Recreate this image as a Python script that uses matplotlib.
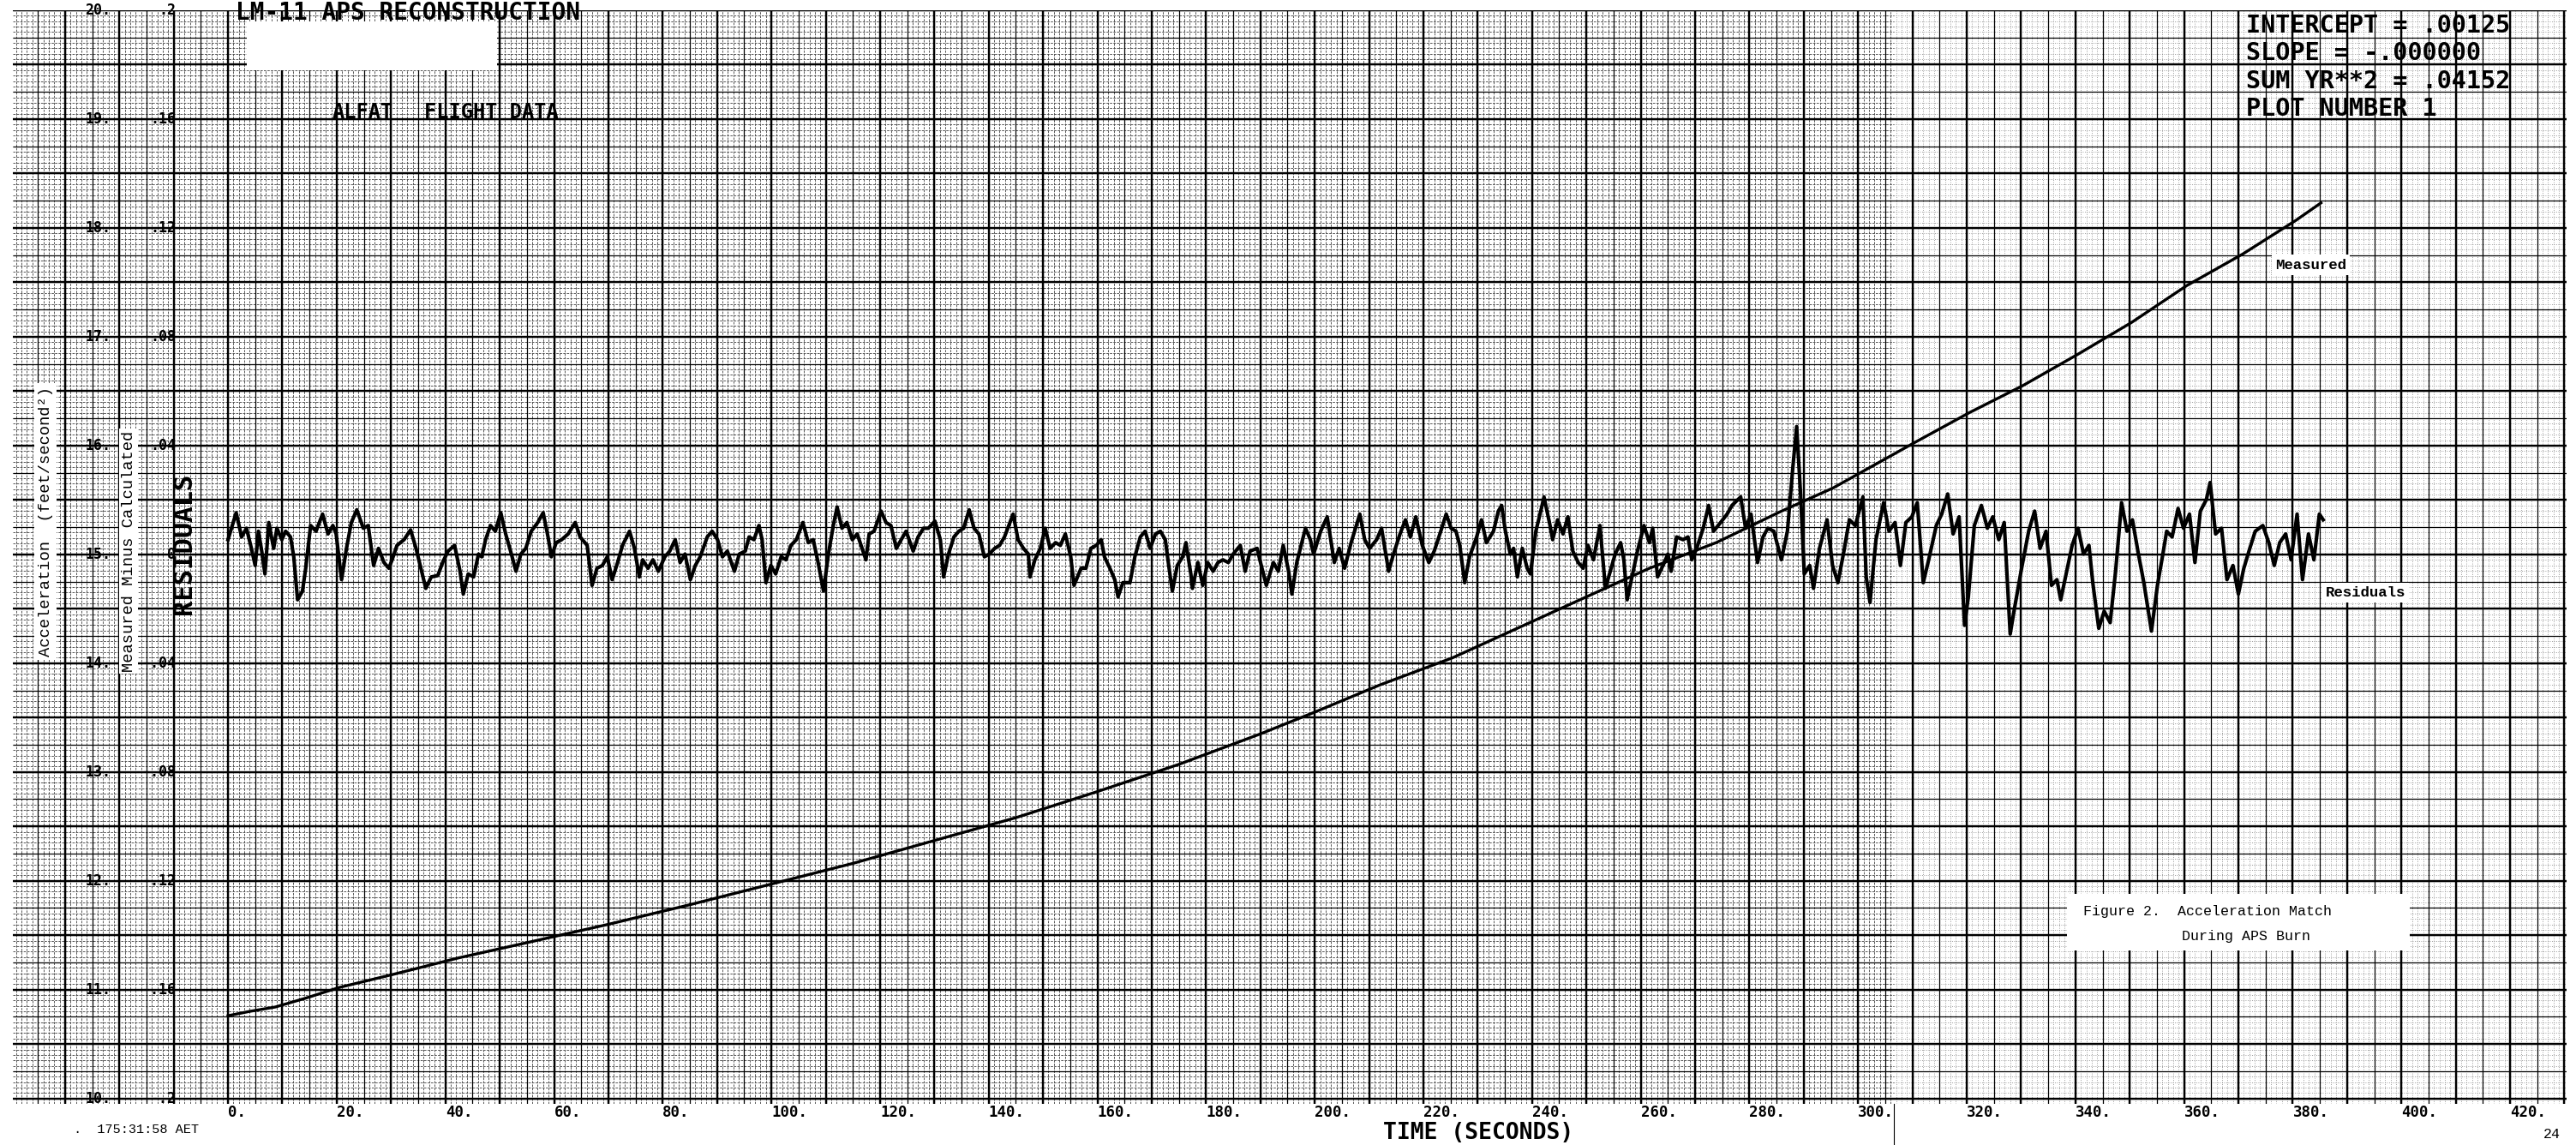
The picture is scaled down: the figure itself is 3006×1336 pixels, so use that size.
import numpy as np
import matplotlib.pyplot as plt
from matplotlib.patches import Rectangle
from matplotlib.lines import Line2D

# measured acceleration, ft/sec^2
meas_t = [0, 4, 8.7, 14.2, 20.5, 30.4, 42.3, 54, 70, 85, 100, 115, 130, 145, 160, 175,
          190, 200, 212, 225.4, 246.5, 261.5, 274, 285.6, 295.4, 310.5, 320.4, 330.3,
          340.5, 350.3, 360.5, 370.8, 380.6, 385.2]
meas_acc = [10.76, 10.80, 10.84, 10.92, 11.02, 11.14, 11.29, 11.42, 11.60, 11.78, 11.97,
            12.16, 12.37, 12.58, 12.82, 13.07, 13.35, 13.55, 13.80, 14.05, 14.53, 14.87,
            15.11, 15.39, 15.61, 16.03, 16.30, 16.55, 16.84, 17.13, 17.47, 17.76, 18.07, 18.23]

# residuals (measured minus calculated), ft/sec^2
res_t = [0.0, 1.5, 2.5, 3.4, 4.3, 5.0, 5.6, 6.2, 6.8, 7.5, 8.4, 9.0, 9.9, 10.6, 11.5, 12.1,
         12.8, 13.7, 14.3, 15.2, 16.2, 17.4, 18.4, 19.3, 19.9, 20.9, 21.8, 22.7, 23.7, 24.9,
         25.8, 26.8, 27.7, 28.7, 29.6, 30.2, 31.1, 32.4, 33.6, 34.6, 35.5, 36.4, 37.4, 38.6,
         39.6, 40.5, 41.7, 42.7, 43.3, 44.2, 45.2, 46.1, 46.7, 47.4, 48.3, 49.2, 50.2, 51.1,
         52.0, 53.0, 53.9, 54.8, 55.8, 57.0, 58.0, 58.9, 59.5, 60.4, 61.4, 62.6, 63.9, 64.8,
         66.1, 67.0, 67.9, 68.9, 69.8, 70.7, 71.7, 72.6, 73.9, 74.8, 75.7, 76.3, 77.3, 78.2,
         79.2, 80.4, 81.3, 82.3, 83.2, 84.1, 85.1, 86.0, 86.9, 88.2, 89.1, 90.1, 91.0, 91.9,
         93.2, 94.1, 95.2,
         95.9, 96.8, 97.7, 98.3, 99.0, 99.9, 100.8, 101.8, 102.7, 103.6, 104.6, 105.8, 106.8,
         107.7, 108.6, 109.6, 110.5, 111.4, 112.1, 113.0, 113.9, 114.9, 115.8, 116.7, 117.4,
         118.0, 118.9, 120.2, 121.1, 122.0, 123.0, 123.9, 124.8, 126.1, 127.0, 128.0, 128.9,
         130.1, 131.1, 131.7, 132.6, 133.6, 134.5, 135.4, 136.4, 137.3, 138.2, 139.2, 140.1,
         141.1, 142.0, 142.9, 143.9, 144.5, 145.4, 146.4, 147.3, 147.6, 148.5, 149.5, 150.4,
         151.3, 152.3, 153.2, 154.1, 155.1, 155.7, 157.0, 157.9, 158.8, 159.8, 160.7, 161.3,
         162.3, 163.2, 163.8, 164.7, 166.0, 166.9, 167.9, 168.8, 169.7, 170.7, 171.6, 172.5,
         173.2, 173.8, 174.7, 175.7, 176.3, 177.2, 177.5, 178.5, 179.4, 180.3, 181.3, 182.2,
         183.1, 184.1, 185.0, 186.3, 187.2, 188.1, 189.4,
         189.9, 191.1, 192.4, 193.3, 194.2, 195.2, 195.8, 196.7, 198.3, 199.2, 199.8, 201.1,
         202.3, 203.6, 204.5, 205.5, 206.7, 208.3, 209.2, 210.1, 211.4, 212.3, 213.6, 214.5,
         215.7, 216.7, 217.6, 218.6, 219.8, 221.0, 222.0, 223.2, 224.2, 225.1, 226.0, 226.7,
         227.6, 228.5, 229.8, 230.7, 231.6, 232.9, 233.8, 234.4, 235.1, 236.0, 236.6, 237.3,
         238.2, 239.1, 239.7, 240.7, 241.6, 242.2, 243.2, 243.8, 244.7, 245.7, 246.6, 247.5,
         248.5, 249.4, 250.3, 251.3, 252.5, 253.5, 254.4, 255.3, 256.3, 256.9, 257.5, 258.5,
         259.4, 260.6, 261.6, 262.2, 263.1, 264.1, 265.0, 265.6, 266.6, 267.8, 268.7, 269.4,
         270.3, 271.5, 272.5, 273.4, 274.7, 275.9, 276.8, 278.4, 279.3, 280.3, 281.5, 282.5,
         283.4, 284.5,
         285.9, 287.0, 288.0, 288.7, 289.4, 290.1, 291.1, 291.8, 292.9, 294.3, 295.3, 296.3,
         297.4, 298.4, 299.5, 300.9, 301.5, 302.2, 303.3, 304.7, 305.7, 306.8, 307.8, 308.8,
         309.9, 310.9, 312.0, 313.0, 314.4, 315.4, 316.5, 317.5, 318.6, 319.6, 320.3, 321.4,
         322.7, 323.8, 324.8, 325.9, 326.9, 328.0, 328.7, 330.0, 331.4, 332.5, 333.5, 334.6,
         335.6, 336.6, 337.3, 338.4, 339.4, 340.5, 341.5, 342.5, 343.2, 344.3, 345.3, 346.4,
         347.4, 348.5, 349.5, 350.5, 351.6, 352.6, 354.0, 355.1, 356.1, 356.8, 357.8, 358.9,
         359.9, 361.0, 362.0, 363.0, 364.1, 364.8, 365.8, 366.9, 367.9, 369.0, 370.0, 371.0,
         372.1, 373.1, 374.5, 375.6, 376.6, 377.6, 378.7, 379.7, 380.8, 381.8, 382.9, 383.9,
         384.9, 385.6]
res_val = [0.0054, 0.0153, 0.0064, 0.0096, 0.0022, -0.0041, 0.0085, 0.0012, -0.0072, 0.0117,
           0.0022, 0.0096, 0.0054, 0.0085, 0.0064, -0.0009, -0.0167, -0.0135, -0.0051, 0.0106,
           0.0085, 0.0148, 0.0075, 0.0106, 0.0075, -0.0093, 0.0022, 0.0117, 0.0164, 0.0096,
           0.0106, -0.0041, 0.0022, -0.0030, -0.0051, -0.0020, 0.0033, 0.0054, 0.0090, 0.0022,
           -0.0051, -0.0125, -0.0083, -0.0078, -0.0025, 0.0012, 0.0033, -0.0062, -0.0146, -0.0072,
           -0.0083, 0.0001, -0.0009, 0.0054, 0.0106, 0.0085, 0.0153, 0.0075, 0.0012, -0.0062,
           0.0001, 0.0022, 0.0085, 0.0117, 0.0153, 0.0064, -0.0009, 0.0043, 0.0054, 0.0075,
           0.0117, 0.0064, 0.0033, -0.0114, -0.0051, -0.0041, -0.0009, -0.0093, -0.0030, 0.0033,
           0.0085, 0.0022, -0.0083, -0.0020, -0.0051, -0.0020, -0.0062, -0.0009, 0.0012, 0.0054,
           -0.0030, 0.0001, -0.0093, -0.0041, -0.0009, 0.0064, 0.0085, 0.0054, -0.0009, 0.0012,
           -0.0062, 0.0001, 0.0012,
           0.0064, 0.0054, 0.0106, 0.0054, -0.0104, -0.0041, -0.0072, -0.0009, -0.0020, 0.0033,
           0.0054, 0.0117, 0.0043, 0.0054, -0.0030, -0.0135, 0.0001, 0.0106, 0.0174, 0.0096,
           0.0117, 0.0054, 0.0075, 0.0022, -0.0020, 0.0075, 0.0085, 0.0159, 0.0117, 0.0106,
           0.0022, 0.0054, 0.0085, 0.0012, 0.0064, 0.0096, 0.0096, 0.0122, 0.0054, -0.0083,
           0.0001, 0.0064, 0.0085, 0.0096, 0.0164, 0.0096, 0.0075, -0.0009, 0.0001, 0.0022,
           0.0033, 0.0064, 0.0117, 0.0148, 0.0054, 0.0022, 0.0001, -0.0083, -0.0020, 0.0022,
           0.0096, 0.0022, 0.0043, 0.0033, 0.0075, -0.0009, -0.0114, -0.0051, -0.0051, 0.0022,
           0.0033, 0.0054, -0.0009, -0.0051, -0.0093, -0.0156, -0.0104, -0.0104, -0.0009, 0.0064,
           0.0085, 0.0022, 0.0075, 0.0085, 0.0054, -0.0051, -0.0135, -0.0041, -0.0009, 0.0043,
           -0.0072, -0.0125, -0.0030, -0.0114, -0.0030, -0.0062, -0.0030, -0.0020, -0.0030, 0.0001,
           0.0033, -0.0062, 0.0012, 0.0022,
           -0.0020, -0.0114, -0.0030, -0.0062, 0.0033, -0.0062, -0.0146, -0.0030, 0.0096, 0.0054,
           0.0001, 0.0085, 0.0138, -0.0030, 0.0022, -0.0051, 0.0043, 0.0148, 0.0054, 0.0022,
           0.0054, 0.0096, -0.0062, 0.0001, 0.0075, 0.0127, 0.0064, 0.0138, 0.0033, -0.0030,
           0.0012, 0.0085, 0.0148, 0.0096, 0.0085, 0.0033, -0.0104, -0.0009, 0.0064, 0.0127,
           0.0043, 0.0085, 0.0159, 0.0180, 0.0085, 0.0001, 0.0022, -0.0083, 0.0022, -0.0051,
           -0.0072, 0.0085, 0.0159, 0.0211, 0.0117, 0.0054, 0.0127, 0.0075, 0.0138, 0.0012,
           -0.0030, -0.0051, 0.0033, -0.0020, 0.0106, -0.0125, -0.0062, 0.0001, 0.0043, -0.0020,
           -0.0167, -0.0072, 0.0012, 0.0106, 0.0043, 0.0096, -0.0083, -0.0041, 0.0001, -0.0062,
           0.0064, 0.0054, 0.0064, -0.0020, 0.0022, 0.0096, 0.0180, 0.0085, 0.0117, 0.0148,
           0.0180, 0.0211, 0.0096, 0.0148, -0.0030, 0.0064, 0.0096, 0.0085,
           -0.0020, 0.0085, 0.0320, 0.0470, 0.0230, -0.0072, -0.0041, -0.0125, 0.0022, 0.0127,
           -0.0041, -0.0104, 0.0012, 0.0127, 0.0106, 0.0211, -0.0083, -0.0177, 0.0054, 0.0190,
           0.0085, 0.0117, -0.0041, 0.0117, 0.0138, 0.0190, -0.0104, -0.0020, 0.0106, 0.0148,
           0.0222, 0.0075, 0.0138, -0.0261, -0.0156, 0.0106, 0.0180, 0.0096, 0.0138, 0.0054,
           0.0117, -0.0293, -0.0209, -0.0062, 0.0085, 0.0159, 0.0022, 0.0085, -0.0114, -0.0093,
           -0.0167, -0.0062, 0.0033, 0.0096, 0.0001, 0.0033, -0.0104, -0.0272, -0.0209, -0.0251,
           -0.0062, 0.0190, 0.0085, 0.0127, 0.0001, -0.0104, -0.0282, -0.0114, 0.0001, 0.0085,
           0.0064, 0.0169, 0.0096, 0.0148, -0.0030, 0.0159, 0.0201, 0.0264, 0.0075, 0.0096,
           -0.0093, -0.0041, -0.0146, -0.0051, 0.0022, 0.0085, 0.0106, 0.0043, -0.0041, 0.0043,
           0.0075, -0.0020, 0.0148, -0.0093, 0.0075, -0.0020, 0.0148, 0.0127]

acc_ticks = [10, 11, 12, 13, 14, 15, 16, 17, 18, 19, 20]
acc_labels = ['10.', '11.', '12.', '13.', '14.', '15.', '16.', '17.', '18.', '19.', '20.']
res_ticks = [-0.2, -0.16, -0.12, -0.08, -0.04, 0, 0.04, 0.08, 0.12, 0.16, 0.2]
res_labels = ['-.2', '-.16', '-.12', '-.08', '-.04', '0', '.04', '.08', '.12', '.16', '.2']
time_ticks = list(range(0, 421, 20))
time_labels = ['%d.' % v for v in time_ticks]
fit_lines = ['INTERCEPT = .00125', 'SLOPE = -.000000', 'SUM YR**2 = .04152', 'PLOT NUMBER 1']

PLOT = ['DejaVu Sans Mono']
TYPE = ['Liberation Mono', 'DejaVu Sans Mono']

W, H = 3006, 1336
t_lo, t_hi = -39.6, 430.4
a_lo, a_hi = 9.95, 20.0
seam = 306.6

fig = plt.figure(figsize=(W / 100, H / 100), dpi=100)
ax = fig.add_axes([15 / W, 48 / H, 2980 / W, 1276 / H])
ax.set_xlim(t_lo, t_hi)
ax.set_ylim(a_lo, a_hi)
for s in ax.spines.values():
    s.set_visible(False)

# graph paper: two sheets, the right one printed lighter
fine_x = np.arange(-39, 431)
fine_y = np.round(np.arange(a_lo, a_hi + 0.001, 0.05), 2)
ax.vlines(fine_x[fine_x < seam], a_lo, a_hi, colors='0.3', lw=0.65, linestyles=(0, (3, 1.5)), zorder=1)
ax.vlines(fine_x[fine_x > seam], a_lo, a_hi, colors='0.5', lw=0.6, linestyles=(0, (1, 2)), zorder=1)
ax.hlines(fine_y, t_lo, seam, colors='0.3', lw=0.65, linestyles=(0, (3, 1.5)), zorder=1)
ax.hlines(fine_y, seam, t_hi, colors='0.5', lw=0.6, linestyles=(0, (1, 2)), zorder=1)
ax.vlines(np.arange(-35, 431, 5), a_lo, a_hi, colors='k', lw=0.9, zorder=2)
ax.hlines(np.arange(10, 20.01, 0.25), t_lo, t_hi, colors='k', lw=0.9, zorder=2)
ax.vlines(np.arange(-30, 431, 10), a_lo, a_hi, colors='k', lw=1.7, zorder=2)
ax.hlines(np.arange(10, 20.01, 0.5), t_lo, t_hi, colors='k', lw=1.7, zorder=2)

ax.set_xticks(time_ticks, time_labels)
ax.set_yticks([])
ax.tick_params(axis='x', length=0, pad=1)
for lab in ax.get_xticklabels():
    lab.set_ha('left')
    lab.set_family(PLOT)
    lab.set_fontsize(12.5)
    lab.set_fontweight('bold')

ax.plot(meas_t, meas_acc, color='k', lw=2.4, zorder=4)

for v, lab in zip(acc_ticks, acc_labels):
    ax.text(-21.6, v, lab, ha='right', va='center', family=PLOT, fontsize=12, fontweight='bold', zorder=3)

ax.text(-33.6, 15.3, 'Acceleration  (feet/second\u00b2)', rotation=90, ha='center', va='center',
        family=TYPE, fontsize=13.5,
        bbox=dict(facecolor='white', edgecolor='none', pad=3), zorder=6)
ax.text(-18.3, 15.03, 'Measured Minus Calculated', rotation=90, ha='center', va='center',
        family=TYPE, fontsize=13.5,
        bbox=dict(facecolor='white', edgecolor='none', pad=2), zorder=6)
ax.text(-8.2, 15.1, 'RESIDUALS', rotation=90, ha='center', va='center',
        family=PLOT, fontsize=22, fontweight='bold', zorder=6)

ax.add_patch(Rectangle((3.5, 19.45), 46, 0.45, facecolor='white', edgecolor='none', zorder=6))
ax.text(19.2, 19.06, 'ALFAT', ha='left', va='center', family=PLOT, fontsize=17, fontweight='bold', zorder=6)
ax.text(36.1, 19.06, 'FLIGHT DATA', ha='left', va='center', family=PLOT, fontsize=17, fontweight='bold', zorder=6)

for i, line in enumerate(fit_lines):
    ax.text(371.4, 19.86 - 0.255 * i, line, ha='left', va='center', family=PLOT,
            fontsize=20.5, fontweight='bold', zorder=6)

ax.text(376.8, 17.66, 'Measured', ha='left', va='center', family=TYPE, fontsize=12.5,
        fontweight='bold', bbox=dict(facecolor='white', edgecolor='none', pad=3), zorder=6)

# residual scale on the same sheet: 1 major division = .04
ax2 = ax.twinx()
ax2.set_ylim((a_lo - 15) * 0.04, (a_hi - 15) * 0.04)
ax2.set_yticks([])
for s in ax2.spines.values():
    s.set_visible(False)
ax2.plot(res_t, res_val, color='k', lw=3.0, zorder=4)
for v, lab in zip(res_ticks, res_labels):
    ax2.text(-9.6, v, lab, ha='right', va='center', family=PLOT, fontsize=12, fontweight='bold', zorder=3)
ax2.text(386.0, -0.014, 'Residuals', ha='left', va='center', family=TYPE, fontsize=12.5,
         fontweight='bold', bbox=dict(facecolor='white', edgecolor='none', pad=3), zorder=6)

ax2.add_patch(Rectangle((338.5, (11.36 - 15) * 0.04), 63, 0.52 * 0.04,
                        facecolor='white', edgecolor='none', zorder=5))
ax2.text(341.5, (11.72 - 15) * 0.04, 'Figure 2.  Acceleration Match', ha='left', va='center',
         family=TYPE, fontsize=12, zorder=6)
ax2.text(359.6, (11.49 - 15) * 0.04, 'During APS Burn', ha='left', va='center',
         family=TYPE, fontsize=12, zorder=6)

# texts outside the sheet
fig.text(275 / W, 1 - 1 / H, 'LM-11 APS RECONSTRUCTION', ha='left', va='top',
         family=PLOT, fontsize=20, fontweight='bold')
fig.text(86 / W, 1 - 1318 / H, '.  175:31:58 AET', ha='left', va='center', family=TYPE, fontsize=11)
fig.text(1725 / W, 1 - 1322 / H, 'TIME (SECONDS)', ha='center', va='center', family=PLOT,
         fontsize=19, fontweight='bold')
fig.text(2968 / W, 1 - 1323 / H, '24', ha='left', va='center', family=TYPE, fontsize=12)
fig.add_artist(Line2D([2210 / W, 2210 / W], [0, 48 / H], transform=fig.transFigure, color='k', lw=0.8))

fig.savefig('out.png', dpi=100, facecolor='white')
